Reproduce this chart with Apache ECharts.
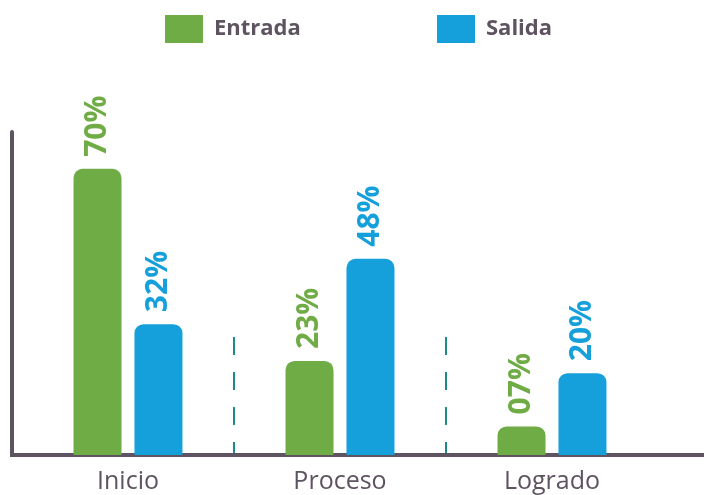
<!DOCTYPE html>
<html>
<head>
<meta charset="utf-8">
<script src="https://cdn.jsdelivr.net/npm/echarts@6/dist/echarts.min.js"></script>
<style>
html,body{margin:0;padding:0;background:#fff;}
#chart{width:704px;height:495px;}
</style>
</head>
<body>
<div id="chart"></div>
<script>
var categories = ['Inicio', 'Proceso', 'Logrado'];
var entrada = [70, 23, 7];
var salida = [32, 48, 20];
var seriesNames = ['Entrada', 'Salida'];

var GREEN = '#6fac45';
var BLUE = '#16a0db';
var AXIS = '#5e5360';
var TEAL = '#1b8b86';
var FONT = '"Open Sans", sans-serif';

function pct(p) {
  var v = String(p.value);
  if (v.length < 2) v = '0' + v;
  return v + '%';
}

function barLabel(color) {
  return {
    show: true, position: 'top', rotate: 90, align: 'left', verticalAlign: 'middle',
    distance: 12, formatter: pct, color: color,
    fontFamily: FONT, fontWeight: 'bold', fontSize: 30
  };
}

var legendText = {color: AXIS, fontFamily: FONT, fontWeight: 'bold', fontSize: 22, padding: [0, 0, 0, 6]};

var option = {
  backgroundColor: '#fff',
  animation: false,
  legend: [
    {left: 165, top: 15, padding: 0, itemWidth: 38, itemHeight: 28, icon: 'rect', data: [seriesNames[0]], textStyle: legendText, selectedMode: false},
    {left: 437, top: 15, padding: 0, itemWidth: 38, itemHeight: 28, icon: 'rect', data: [seriesNames[1]], textStyle: legendText, selectedMode: false}
  ],
  grid: [
    {left: 22, right: 46, top: 132, bottom: 40},
    {left: 12, right: 0, top: 132, bottom: 40},
    {left: 22, right: 46, top: 337, bottom: 40}
  ],
  xAxis: [
    {
      type: 'category', gridIndex: 0, data: categories,
      axisLine: {show: false}, axisTick: {show: false}, splitLine: {show: false},
      axisLabel: {color: AXIS, fontFamily: FONT, fontSize: 25, margin: 14}
    },
    {
      type: 'value', gridIndex: 1, min: 0, max: 1, offset: 2,
      axisLine: {show: true, lineStyle: {color: AXIS, width: 4, cap: 'square'}},
      axisTick: {show: false}, axisLabel: {show: false}, splitLine: {show: false}
    },
    {
      type: 'category', gridIndex: 2, data: categories,
      axisLine: {show: false}, axisTick: {show: false}, axisLabel: {show: false},
      splitLine: {show: true, showMinLine: false, showMaxLine: false,
        lineStyle: {color: TEAL, width: 2, type: [18, 17]}}
    }
  ],
  yAxis: [
    {
      type: 'value', gridIndex: 0, min: 0, max: 79,
      axisLine: {show: false}, axisTick: {show: false}, axisLabel: {show: false}, splitLine: {show: false}
    },
    {
      type: 'value', gridIndex: 1, min: 0, max: 1,
      axisLine: {show: true, lineStyle: {color: AXIS, width: 4}},
      axisTick: {show: false}, axisLabel: {show: false}, splitLine: {show: false}
    },
    {
      type: 'value', gridIndex: 2, min: 0, max: 1, show: false
    }
  ],
  series: [
    {
      name: seriesNames[0], type: 'bar', xAxisIndex: 0, yAxisIndex: 0, data: entrada,
      barWidth: 48, barGap: '27%', z: 3,
      itemStyle: {color: GREEN, borderRadius: [9, 9, 0, 0]},
      label: barLabel(GREEN)
    },
    {
      name: seriesNames[1], type: 'bar', xAxisIndex: 0, yAxisIndex: 0, data: salida,
      barWidth: 48, barGap: '27%', z: 3,
      itemStyle: {color: BLUE, borderRadius: [9, 9, 0, 0]},
      label: barLabel(BLUE)
    }
  ]
};

var chart = echarts.init(document.getElementById('chart'), null, {renderer: 'canvas'});
chart.setOption(option);
</script>
</body>
</html>
